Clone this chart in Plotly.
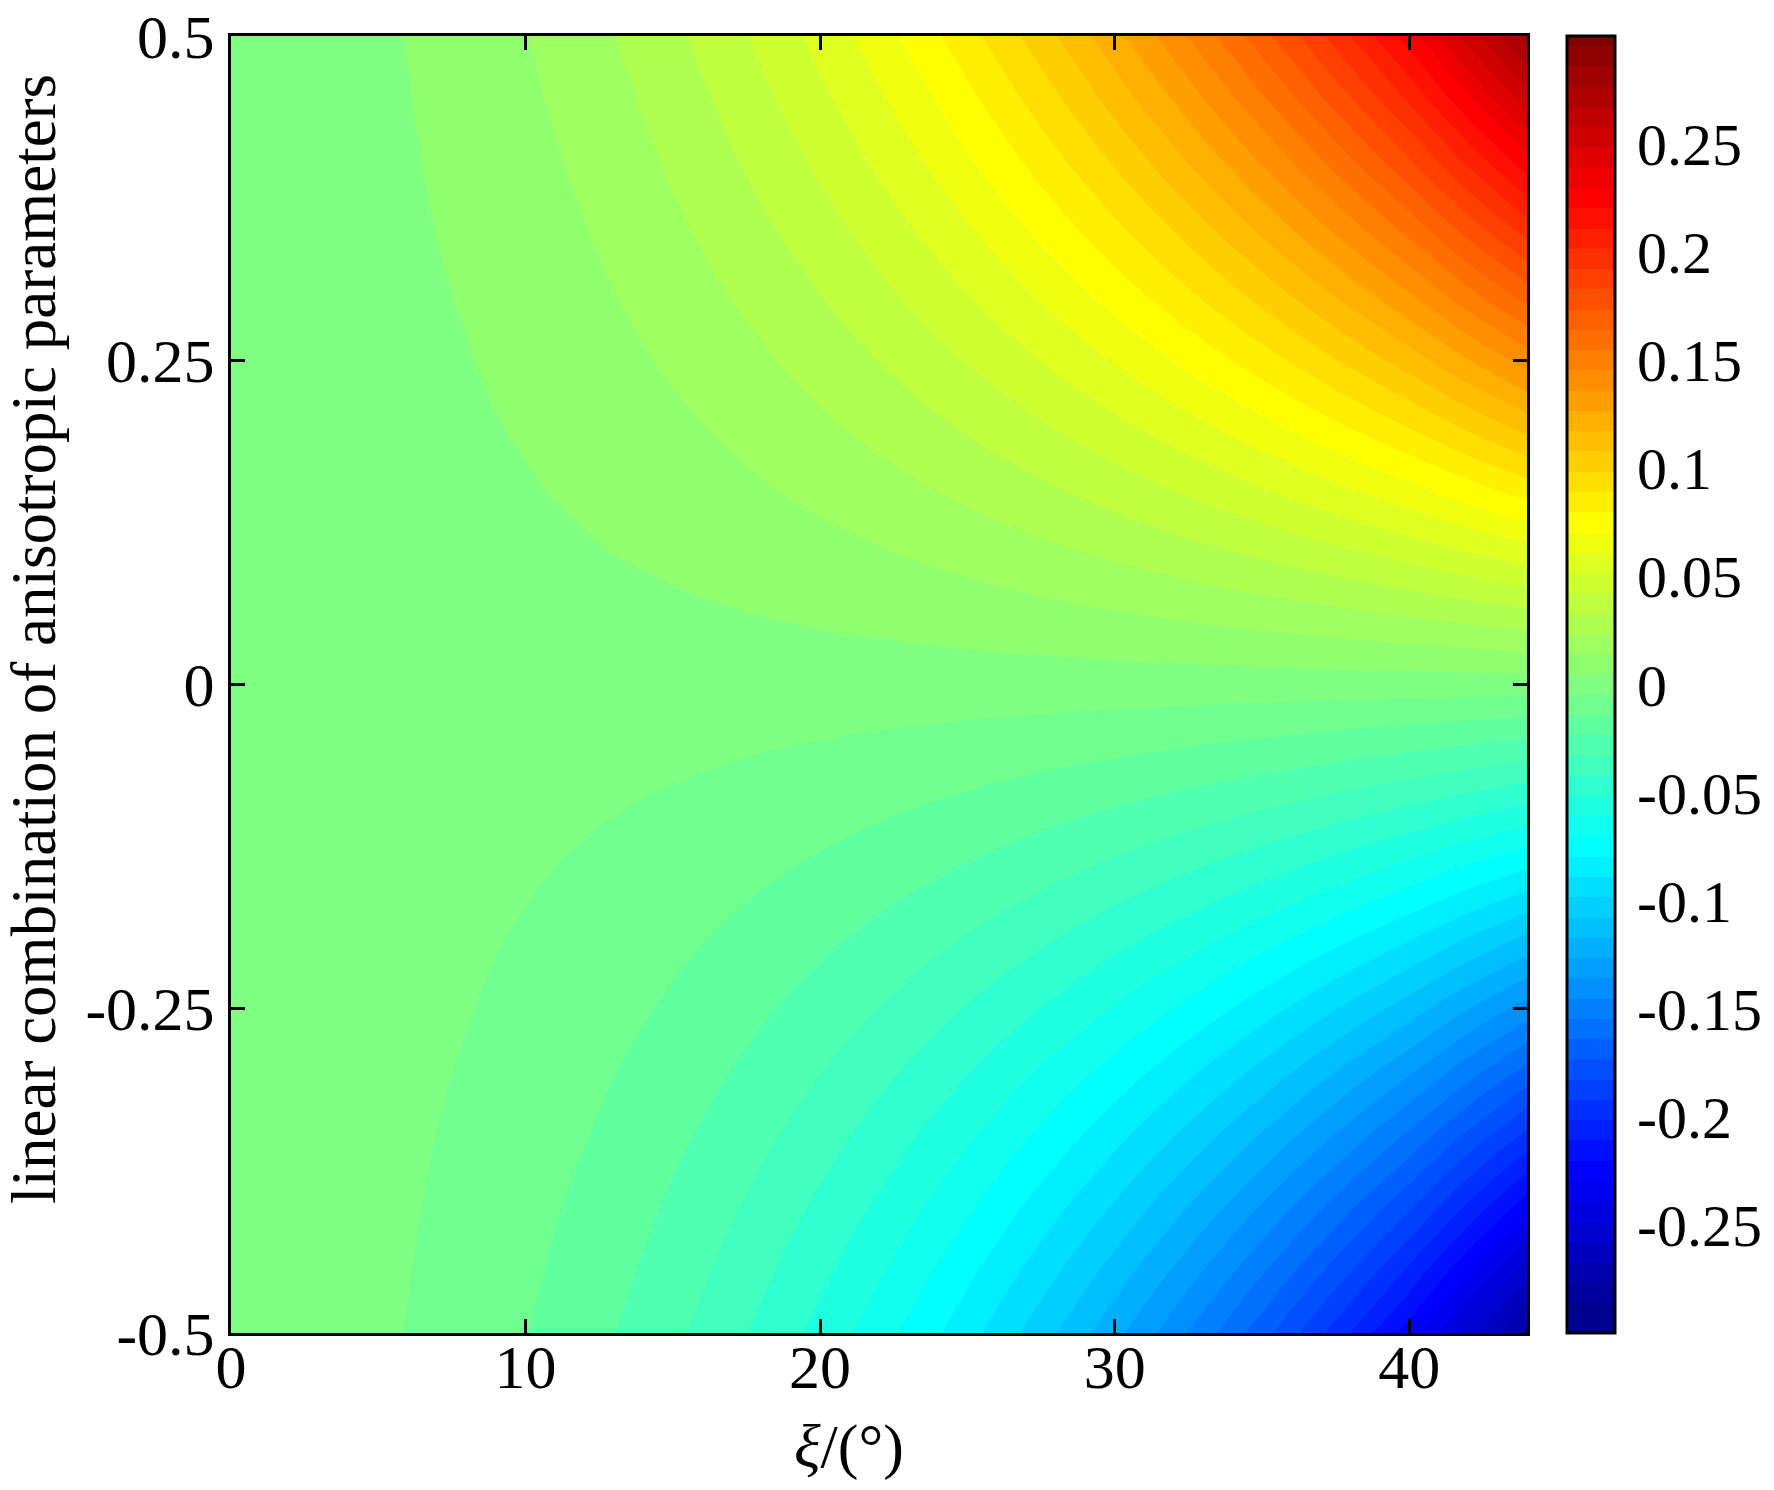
import plotly.graph_objects as go

# incidence angle xi (deg)
xi = [0, 2, 4, 6, 8, 10, 12, 14, 16, 18, 20, 22, 24, 26, 28, 30, 32, 34, 36, 38, 40, 42, 44]
# coefficient: value per unit of the anisotropic combination
g = [0.0, 0.00109, 0.00438, 0.00985, 0.01751, 0.02734, 0.03937, 0.05357, 0.06995, 0.08852,
     0.10929, 0.13228, 0.15751, 0.18503, 0.2149, 0.24718, 0.282, 0.31948, 0.35981, 0.40323,
     0.45004, 0.505, 0.56]
# linear combination of anisotropic parameters
yv = [-0.5, -0.45, -0.4, -0.35, -0.3, -0.25, -0.2, -0.15, -0.1, -0.05, 0.0,
      0.05, 0.1, 0.15, 0.2, 0.25, 0.3, 0.35, 0.4, 0.45, 0.5]

x_ticks = [0, 10, 20, 30, 40]
x_ticktext = ["0", "10", "20", "30", "40"]
y_ticks = [-0.5, -0.25, 0, 0.25, 0.5]
y_ticktext = ["-0.5", "-0.25", "0", "0.25", "0.5"]
cb_ticks = [-0.25, -0.2, -0.15, -0.1, -0.05, 0, 0.05, 0.1, 0.15, 0.2, 0.25]
cb_ticktext = ["-0.25", "-0.2", "-0.15", "-0.1", "-0.05", "0", "0.05", "0.1", "0.15", "0.2", "0.25"]

z = [[y * gv for gv in g] for y in yv]


# MATLAB-style jet colormap with 64 entries
def jet64():
    n = 16
    u = [i / n for i in range(1, n + 1)] + [1.0] * (n - 1) + [i / n for i in range(n, 0, -1)]
    cols = []
    for i in range(1, 65):
        gi, ri, bi = i - 9, i - 25, i + 7
        r = u[ri] if 0 <= ri < len(u) else 0.0
        gg = u[gi] if 0 <= gi < len(u) else 0.0
        b = u[bi] if 0 <= bi < len(u) else 0.0
        cols.append("rgb(%d,%d,%d)" % (round(r * 255), round(gg * 255), round(b * 255)))
    return cols


J = jet64()
# each filled band takes the colour of its lower contour level (as MATLAB contourf does)
colorscale = [[0.0, J[0]], [1.5 / 64, J[0]]]
for j in range(1, 63):
    colorscale.append([(j + 0.5) / 64, J[j]])
    colorscale.append([(j + 1.5) / 64, J[j]])
colorscale.append([63.5 / 64, J[63]])
colorscale.append([1.0, J[63]])

FONT = "Liberation Serif"
FS = 62
CMIN, CMAX, NLEV = -0.30, 0.30, 64
step = (CMAX - CMIN) / NLEV

fig = go.Figure(
    go.Contour(
        x=xi, y=yv, z=z,
        colorscale=colorscale,
        zmin=CMIN, zmax=CMAX, zauto=False,
        autocontour=False,
        contours=dict(start=CMIN + step / 2, end=CMAX - step / 2, size=step,
                      coloring="fill", showlines=False),
        line=dict(width=0, smoothing=1),
        colorbar=dict(
            x=(1567 - 231) / 1296, xanchor="left", xpad=0, ypad=0,
            y=0.5, yanchor="middle", len=1.0, lenmode="fraction",
            thickness=48, outlinewidth=3, outlinecolor="black",
            tickmode="array", tickvals=cb_ticks, ticktext=cb_ticktext,
            ticks="outside", ticklen=9, tickwidth=1, tickcolor="rgba(0,0,0,0)",
            tickfont=dict(family=FONT, size=60, color="black"),
        ),
    )
)

axis_common = dict(
    showline=True, linewidth=3, linecolor="black", mirror="allticks",
    ticks="inside", ticklen=14, tickwidth=3, tickcolor="black",
    showgrid=False, zeroline=False, ticklabeloverflow="allow",
    tickfont=dict(family=FONT, size=FS, color="black"),
)

fig.update_xaxes(range=[0, 44], tickmode="array", tickvals=x_ticks, ticktext=x_ticktext,
                 ticklabelstandoff=-22, **axis_common)
fig.update_yaxes(range=[-0.5, 0.5], tickmode="array", tickvals=y_ticks, ticktext=y_ticktext,
                 ticklabelstandoff=1, **axis_common)

# colorbar inside ticks on both edges, like the reference
shapes = []
for v in cb_ticks:
    yp = (v - CMIN) / (CMAX - CMIN)
    for x0p, x1p in ((1569, 1581), (1603, 1615)):
        shapes.append(dict(type="line", xref="paper", yref="paper",
                           x0=(x0p - 231) / 1296, x1=(x1p - 231) / 1296, y0=yp, y1=yp,
                           line=dict(color="black", width=3)))

fig.update_layout(
    width=1766, height=1482,
    margin=dict(l=223, r=247, t=28, b=157, autoexpand=False),
    paper_bgcolor="white", plot_bgcolor="white",
    font=dict(family=FONT, size=FS, color="black"),
    shapes=shapes,
    annotations=[
        dict(text="linear combination of anisotropic parameters", textangle=-90,
             xref="paper", yref="paper", x=(34 - 231) / 1296, y=(1333 - 639) / 1297,
             xanchor="center", yanchor="middle", showarrow=False,
             font=dict(family=FONT, size=63, color="black")),
        dict(text="<i>ξ</i>/(°)",
             xref="paper", yref="paper", x=(849 - 231) / 1296, y=(1333 - 1446) / 1297,
             xanchor="center", yanchor="middle", showarrow=False,
             font=dict(family=FONT, size=FS, color="black")),
    ],
)

fig.write_html("out.html")
